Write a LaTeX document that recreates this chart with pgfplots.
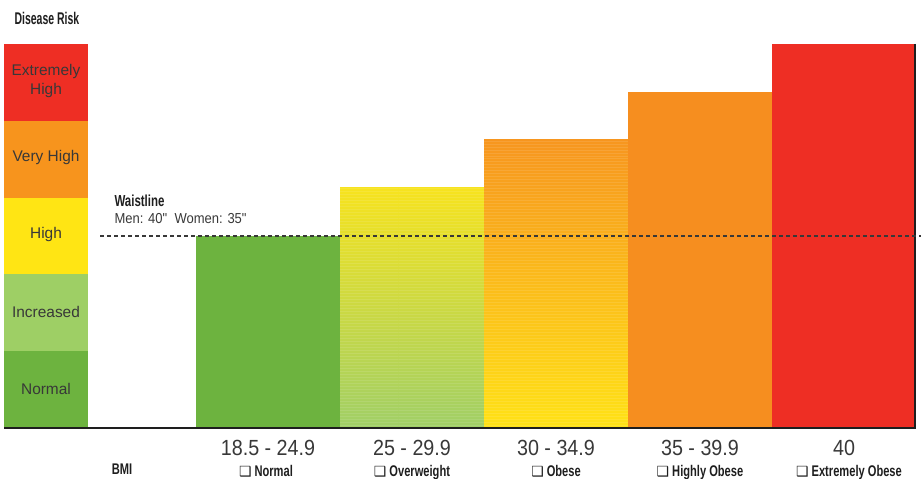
\documentclass[border=0pt]{standalone}
\usepackage{pgfplots}
\pgfplotsset{compat=1.18}
\usetikzlibrary{patterns}
\usepackage{fontspec}
\setmainfont{Liberation Sans}
\newfontfamily\numfont[FakeStretch=0.9]{Liberation Sans}
\newfontfamily\cond[FakeStretch=0.72]{Liberation Sans}
\newfontfamily\condd[FakeStretch=0.62]{Liberation Sans}
\newfontfamily\symfont{DejaVu Sans}

\definecolor{cRed}{HTML}{EE2E24}
\definecolor{cOrange}{HTML}{F7941D}
\definecolor{cOrange2}{HTML}{F68E1F}
\definecolor{cYellow}{HTML}{FFE514}
\definecolor{cLight}{HTML}{9ECF65}
\definecolor{cGreen}{HTML}{6DB33F}
\definecolor{txt}{HTML}{383838}
\definecolor{ink}{HTML}{1E1E1E}

% y in risk levels: 1 unit = one band of the scale (76.8 px)
\newcommand{\sub}[1]{{\symfont\fontsize{14}{14}\selectfont ❑}\hspace{3bp}{\cond\bfseries #1}}

\begin{document}
\begin{tikzpicture}
\begin{axis}[
    name=ax,
    width=921bp, height=479bp, scale only axis,
    xmin=0, xmax=921,
    ymin=-0.6641, ymax=5.5729,
    hide axis, clip=false,
]
% risk scale on the left
\addplot[draw=none, fill=cGreen]  coordinates {(4,0)(88,0)(88,1)(4,1)};
\addplot[draw=none, fill=cLight]  coordinates {(4,1)(88,1)(88,2)(4,2)};
\addplot[draw=none, fill=cYellow] coordinates {(4,2)(88,2)(88,3)(4,3)};
\addplot[draw=none, fill=cOrange] coordinates {(4,3)(88,3)(88,4)(4,4)};
\addplot[draw=none, fill=cRed]    coordinates {(4,4)(88,4)(88,5)(4,5)};

% BMI bars
\addplot[draw=none, fill=cGreen] coordinates {(196,0)(340,0)(340,2.5)(196,2.5)};
\addplot[draw=none, top color={rgb,255:red,247;green,227;blue,30},
    bottom color={rgb,255:red,160;green,207;blue,103},
    postaction={pattern=horizontal lines, pattern color=white, opacity=0.12}]
    coordinates {(340,0)(484,0)(484,3.125)(340,3.125)};
\addplot[draw=none, top color={rgb,255:red,247;green,150;blue,31},
    bottom color={rgb,255:red,255;green,226;blue,22},
    postaction={pattern=horizontal lines, pattern color=white, opacity=0.12}]
    coordinates {(484,0)(628,0)(628,3.75)(484,3.75)};
\addplot[draw=none, fill=cOrange2] coordinates {(628,0)(772,0)(772,4.375)(628,4.375)};
\addplot[draw=none, fill=cRed] coordinates {(772,0)(914,0)(914,5)(772,5)};

% frame lines
\addplot[draw=ink, line width=2bp] coordinates {(915,5)(915,0)};
\addplot[draw=ink, line width=2.2bp] coordinates {(4,0)(916,0)};

% waistline
\addplot[draw=txt, line width=1.3bp, dash pattern=on 4bp off 3bp] coordinates {(100,2.5)(921,2.5)};

% texts
\node[anchor=west, text=ink, font=\condd\bfseries\fontsize{17}{17}\selectfont] at (axis cs:11,5.332) {Disease Risk};
\node[anchor=west, text=ink, font=\cond\bfseries\fontsize{16}{16}\selectfont] at (axis cs:111,2.956) {Waistline};
\node[anchor=west, text=txt, font=\numfont\fontsize{14.5}{14.5}\selectfont] at (axis cs:111,2.721) {Men: 40"\ \ Women: 35"};

\begin{scope}[every node/.style={text=txt, align=center, font=\fontsize{15.5}{20}\selectfont}]
\node at (axis cs:46,4.518) {Extremely\\High};
\node at (axis cs:46,3.516) {Very High};
\node at (axis cs:46,2.513) {High};
\node at (axis cs:46,1.51) {Increased};
\node at (axis cs:46,0.508) {Normal};
\end{scope}

\begin{scope}[every node/.style={anchor=base, text=txt, font=\numfont\fontsize{22}{22}\selectfont}]
\node at (axis cs:268,-0.3646) {18.5 - 24.9};
\node at (axis cs:412,-0.3646) {25 - 29.9};
\node at (axis cs:556,-0.3646) {30 - 34.9};
\node at (axis cs:700,-0.3646) {35 - 39.9};
\node at (axis cs:844,-0.3646) {40};
\end{scope}

\begin{scope}[every node/.style={anchor=base, text=ink, font=\fontsize{15.5}{15.5}\selectfont}]
\node at (axis cs:122,-0.61) {\cond\bfseries BMI};
\node at (axis cs:266,-0.638) {\sub{Normal}};
\node at (axis cs:412,-0.638) {\sub{Overweight}};
\node at (axis cs:556,-0.638) {\sub{Obese}};
\node at (axis cs:700,-0.638) {\sub{Highly Obese}};
\node at (axis cs:849,-0.638) {\sub{Extremely Obese}};
\end{scope}
\end{axis}
\pgfresetboundingbox
\path (ax.south west) rectangle (ax.north east);
\end{tikzpicture}
\end{document}
